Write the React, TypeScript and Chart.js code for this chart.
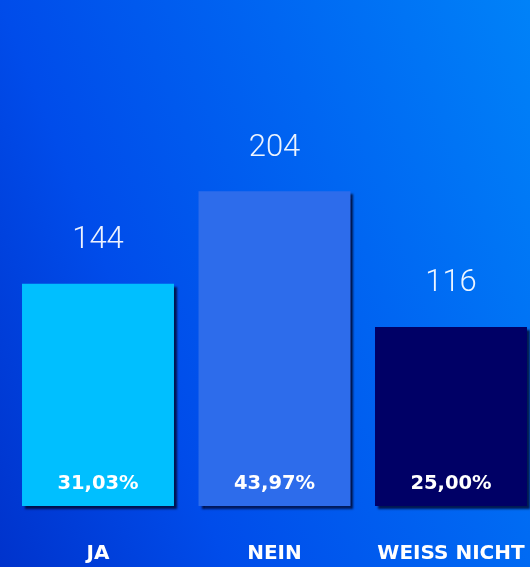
import React, { useEffect, useRef } from "react";
import { Chart, registerables } from "chart.js";

Chart.register(...registerables);

const categories = ["JA", "NEIN", "WEISS NICHT"];
const counts = [144, 204, 116];
const percentLabels = ["31,03%", "43,97%", "25,00%"];
const barColors = ["#00BFFF", "#2D6CEB", "#000066"];
const yMax = 328;

const bgPlugin = {
  id: "bgGradient",
  beforeDraw(chart: any) {
    const { ctx, width, height } = chart;
    const g = ctx.createLinearGradient(0, 567, 653, 305);
    g.addColorStop(0, "#0033CC");
    g.addColorStop(0.3, "#004CEA");
    g.addColorStop(0.65, "#0066F2");
    g.addColorStop(1, "#0082F8");
    ctx.save();
    ctx.fillStyle = g;
    ctx.fillRect(0, 0, width, height);
    ctx.restore();
  },
};

const shadowPlugin = {
  id: "barShadow",
  beforeDatasetDraw(chart: any) {
    const ctx = chart.ctx;
    ctx.save();
    ctx.shadowColor = "rgba(0, 0, 30, 0.75)";
    ctx.shadowOffsetX = 3;
    ctx.shadowOffsetY = 3;
    ctx.shadowBlur = 2;
  },
  afterDatasetDraw(chart: any) {
    chart.ctx.restore();
  },
};

const labelPlugin = {
  id: "barLabels",
  afterDatasetsDraw(chart: any) {
    const ctx = chart.ctx;
    const meta = chart.getDatasetMeta(0);
    ctx.save();
    ctx.textAlign = "center";
    ctx.textBaseline = "middle";
    meta.data.forEach((bar: any, i: number) => {
      const { x, y, base } = bar.getProps(["x", "y", "base"], true);
      ctx.fillStyle = "rgba(255,255,255,0.93)";
      ctx.font = "300 31px Roboto, sans-serif";
      ctx.fillText(String(counts[i]), x, y - 43.5);
      ctx.fillStyle = "#FFFFFF";
      ctx.font = 'bold 19.5px "DejaVu Sans", sans-serif';
      ctx.fillText(percentLabels[i], x, base - 22.5);
    });
    ctx.restore();
  },
};

export default function App() {
  const ref = useRef<HTMLCanvasElement | null>(null);

  useEffect(() => {
    if (!ref.current) return;
    const chart = new Chart(ref.current, {
      type: "bar",
      data: {
        labels: categories,
        datasets: [
          {
            data: counts,
            backgroundColor: barColors,
            borderWidth: 0,
            barPercentage: 0.861,
            categoryPercentage: 1,
            clip: false as any,
          },
        ],
      },
      options: {
        responsive: false,
        animation: false,
        devicePixelRatio: 1,
        layout: { padding: { left: 9.75, right: 0.75, top: 0, bottom: 1 } },
        plugins: {
          legend: { display: false },
          tooltip: { enabled: false },
          title: { display: false },
        },
        scales: {
          y: {
            display: false,
            min: 0,
            max: yMax,
          },
          x: {
            grid: { display: false, drawTicks: true, tickLength: 36 },
            border: { display: false },
            ticks: {
              color: "#FFFFFF",
              padding: 0,
              maxRotation: 0,
              autoSkip: false,
              font: {
                family: '"DejaVu Sans", sans-serif',
                size: 20,
                weight: "bold",
              },
            },
          },
        },
      },
      plugins: [bgPlugin, shadowPlugin, labelPlugin],
    });
    return () => chart.destroy();
  }, []);

  return (
    <div
      style={{
        position: "fixed",
        left: 0,
        top: 0,
        width: 530,
        height: 567,
        overflow: "hidden",
      }}
    >
      <canvas ref={ref} width={540} height={567} style={{ width: 540, height: 567, display: "block" }} />
    </div>
  );
}
